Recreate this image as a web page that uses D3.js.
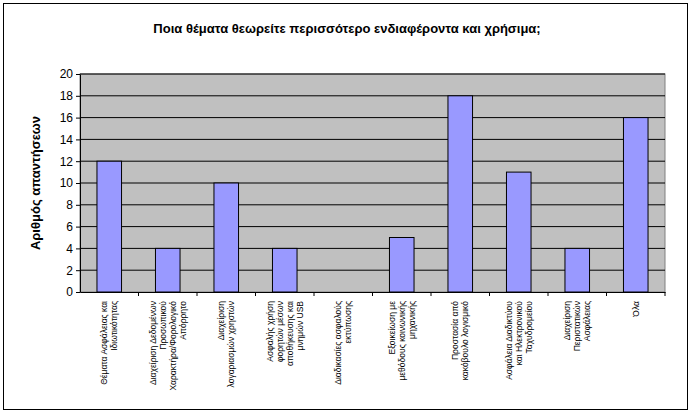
<!DOCTYPE html>
<html><head><meta charset="utf-8">
<script src="https://cdn.jsdelivr.net/npm/d3@7"></script>
<style>body{margin:0;background:#fff}</style></head>
<body><div id="container"></div>
<script>
const categories = [
  ["Θέματα Ασφάλειας και", "Ιδιωτικότητας"],
  ["Διαχείριση Δεδομένων", "Προσωπικού", "Χαρακτήρα/Φορολογικό", "Απόρρητο"],
  ["Διαχείριση", "λογαριασμών χρηστών"],
  ["Ασφαλής χρήση", "φορητών μέσων", "αποθήκευσης και", "μνημών USB"],
  ["Διαδικασίες ασφαλούς", "εκτύπωσης"],
  ["Εξοικείωση με", "μεθόδους κοινωνικής", "μηχανικής"],
  ["Προστασία από", "κακόβουλο λογισμικό"],
  ["Ασφάλεια Διαδικτύου", "και Ηλεκτρονικού", "Ταχυδρομείου"],
  ["Διαχείριση", "Περιστατικών", "Ασφάλειας"],
  ["Όλα"]
];
const values = [12, 4, 10, 4, 0, 5, 18, 11, 4, 16];
const yTicks = [0, 2, 4, 6, 8, 10, 12, 14, 16, 18, 20];

const width = 694, height = 417;
const svg = d3.select("#container").append("svg")
  .attr("width", width).attr("height", height)
  .style("font-family", "Liberation Sans, Arial, sans-serif");

svg.append("rect").attr("x", 3.5).attr("y", 3.5).attr("width", 684).attr("height", 406)
  .attr("fill", "#fff").attr("stroke", "#000");

svg.append("text").attr("x", 347).attr("y", 33).attr("text-anchor", "middle")
  .attr("font-size", 13).attr("font-weight", "bold")
  .text("Ποια θέματα θεωρείτε περισσότερο ενδιαφέροντα και χρήσιμα;");

const pLeft = 80, pRight = 665, pTop = 74, pBottom = 292;
const x = d3.scaleBand().domain(d3.range(categories.length)).range([pLeft, pRight]).paddingInner(0.58).paddingOuter(0.29);
const y = d3.scaleLinear().domain([0, 20]).range([pBottom, pTop]);

svg.append("rect").attr("x", pLeft).attr("y", pTop).attr("width", pRight - pLeft).attr("height", pBottom - pTop)
  .attr("fill", "#c0c0c0").attr("stroke", "#808080");

svg.append("g").selectAll("line").data(yTicks.slice(1)).enter().append("line")
  .attr("x1", pLeft).attr("x2", pRight).attr("y1", d => y(d)).attr("y2", d => y(d))
  .attr("stroke", "#000").attr("stroke-width", 1);

svg.selectAll(".bar").data(values).enter().append("rect")
  .attr("x", (d, i) => x(i)).attr("y", d => y(d))
  .attr("width", x.bandwidth()).attr("height", d => pBottom - y(d))
  .attr("fill", "#9999ff").attr("stroke", "#000");

const yAxis = svg.append("g").attr("transform", `translate(${pLeft},0)`)
  .call(d3.axisLeft(y).tickValues(yTicks).tickSize(4).tickSizeOuter(0));
yAxis.selectAll("text").attr("font-size", 12).attr("fill", "#000");
yAxis.select(".domain").attr("stroke", "#000");

const xAxis = svg.append("g").attr("transform", `translate(0,${pBottom})`)
  .call(d3.axisBottom(x).tickSize(4).tickFormat("").tickSizeOuter(0));
xAxis.selectAll(".tick").attr("transform", d => `translate(${x(d) + x.bandwidth() / 2 + x.step() / 2},0)`);
xAxis.select(".domain").attr("stroke", "#000");

const lh = 10;
categories.forEach((lines, i) => {
  const cx = x(i) + x.bandwidth() / 2;
  const t = svg.append("text").attr("transform", `translate(${cx},301) rotate(-90)`)
    .attr("text-anchor", "end").attr("font-size", 8.5).attr("fill", "#000");
  lines.forEach((l, j) => {
    t.append("tspan").attr("x", 0).attr("y", (j - (lines.length - 1) / 2) * lh + 3).text(l);
  });
});

svg.append("text").attr("transform", "translate(40,183) rotate(-90)").attr("text-anchor", "middle")
  .attr("font-size", 13).attr("font-weight", "bold").text("Αριθμός απαντήσεων");
</script></body></html>
